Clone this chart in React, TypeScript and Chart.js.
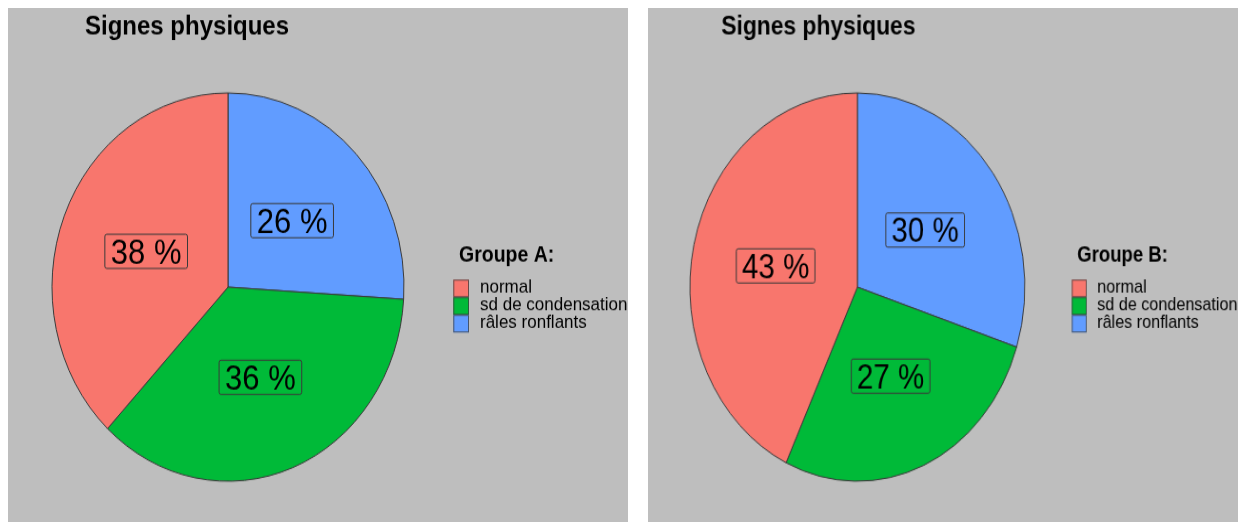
import React, { useEffect, useRef } from "react";
import { Chart, registerables } from "chart.js";

Chart.register(...registerables);

// ---- data ----
const categories = ["normal", "sd de condensation", "râles ronflants"];
const categoryColors = ["#F8766D", "#00BA38", "#619CFF"];
const groupAValues = [38, 36, 26];
const groupBValues = [43, 27, 30];
const chartTitle = "Signes physiques";
const legendTitleA = "Groupe A:";
const legendTitleB = "Groupe B:";

// ---- layout constants ----
const FONT = '"Liberation Sans", Arial, Helvetica, sans-serif';
const BASE_W = 620;
const BASE_H = 466;
const PANEL_H = 514;

const decorPlugin = {
  id: "decor",
  afterDatasetsDraw(chart: any, _args: any, opts: any) {
    const ctx = chart.ctx;
    const meta = chart.getDatasetMeta(0);
    const ds = chart.data.datasets[0];
    const vals: number[] = ds.data as number[];
    const total = vals.reduce((a, b) => a + b, 0);
    ctx.save();
    meta.data.forEach((arc: any, i: number) => {
      const { x, y } = arc.tooltipPosition(false);
      const text = Math.round((vals[i] / total) * 100) + " %";
      ctx.font = `31px ${FONT}`;
      const w = ctx.measureText(text).width + 12;
      const h = 31;
      ctx.beginPath();
      if ((ctx as any).roundRect) (ctx as any).roundRect(x - w / 2, y - h / 2, w, h, 2);
      else ctx.rect(x - w / 2, y - h / 2, w, h);
      ctx.fillStyle = ds.backgroundColor[i];
      ctx.fill();
      ctx.lineWidth = 1;
      ctx.strokeStyle = "#3a3a3a";
      ctx.stroke();
      ctx.fillStyle = "#000";
      ctx.textAlign = "center";
      ctx.textBaseline = "alphabetic";
      ctx.fillText(text, x, y + 11);
    });
    ctx.restore();
  },
  afterDraw(chart: any, _args: any, opts: any) {
    const ctx = chart.ctx;
    ctx.save();
    // title
    ctx.fillStyle = "#000";
    ctx.textAlign = "left";
    ctx.textBaseline = "alphabetic";
    ctx.font = `bold 24px ${FONT}`;
    ctx.fillText(opts.title, 77, 23.8);
    // legend
    ctx.font = `bold 19.5px ${FONT}`;
    ctx.fillText(opts.legendTitle, 451, 230.2);
    const size = 16;
    const top = 246.2;
    categories.forEach((c, i) => {
      const y = top + i * size;
      ctx.fillStyle = categoryColors[i];
      ctx.fillRect(445.3, y, 15.7, size);
      ctx.lineWidth = 1;
      ctx.strokeStyle = "rgba(60,60,60,0.75)";
      ctx.strokeRect(445.3 + 0.5, y + 0.5, 14.7, size - 1);
      ctx.fillStyle = "#000";
      ctx.font = `17px ${FONT}`;
      ctx.textBaseline = "middle";
      ctx.fillText(c, 472, y + size / 2 - 0.5);
    });
    ctx.restore();
  },
};

function PiePanel({ values, legendTitle }: { values: number[]; legendTitle: string }) {
  const ref = useRef<HTMLCanvasElement>(null);
  useEffect(() => {
    if (!ref.current) return;
    const order = [2, 1, 0]; // clockwise from top: râles, sd, normal
    const chart = new Chart(ref.current, {
      type: "pie",
      data: {
        labels: order.map((i) => categories[i]),
        datasets: [
          {
            data: order.map((i) => values[i]),
            backgroundColor: order.map((i) => categoryColors[i]),
            borderColor: "#3a3a3a",
            borderWidth: 1,
          },
        ],
      },
      options: {
        responsive: false,
        animation: false,
        radius: 176,
        layout: { padding: { left: 0, right: 180, top: 40, bottom: 0 } },
        plugins: {
          legend: { display: false },
          tooltip: { enabled: false },
          title: { display: false },
          decor: { title: chartTitle, legendTitle },
        } as any,
      } as any,
      plugins: [decorPlugin as any],
    });
    return () => chart.destroy();
  }, [values, legendTitle]);
  return <canvas ref={ref} width={BASE_W} height={BASE_H} style={{ display: "block" }} />;
}

export default function App() {
  const sy = PANEL_H / BASE_H;
  const panels = [
    { left: 8, width: 620, values: groupAValues, legend: legendTitleA },
    { left: 648, width: 590, values: groupBValues, legend: legendTitleB },
  ];
  return (
    <>
      <style>{`html,body{margin:0;padding:0;overflow:hidden;background:#fff}`}</style>
      {panels.map((p, k) => (
        <div
          key={k}
          style={{
            position: "absolute",
            left: p.left,
            top: 8,
            width: p.width,
            height: PANEL_H,
            background: "#BEBEBE",
            overflow: "hidden",
          }}
        >
          <div
            style={{
              width: BASE_W,
              height: BASE_H,
              transform: `scale(${p.width / BASE_W}, ${sy})`,
              transformOrigin: "0 0",
            }}
          >
            <PiePanel values={p.values} legendTitle={p.legend} />
          </div>
        </div>
      ))}
    </>
  );
}
